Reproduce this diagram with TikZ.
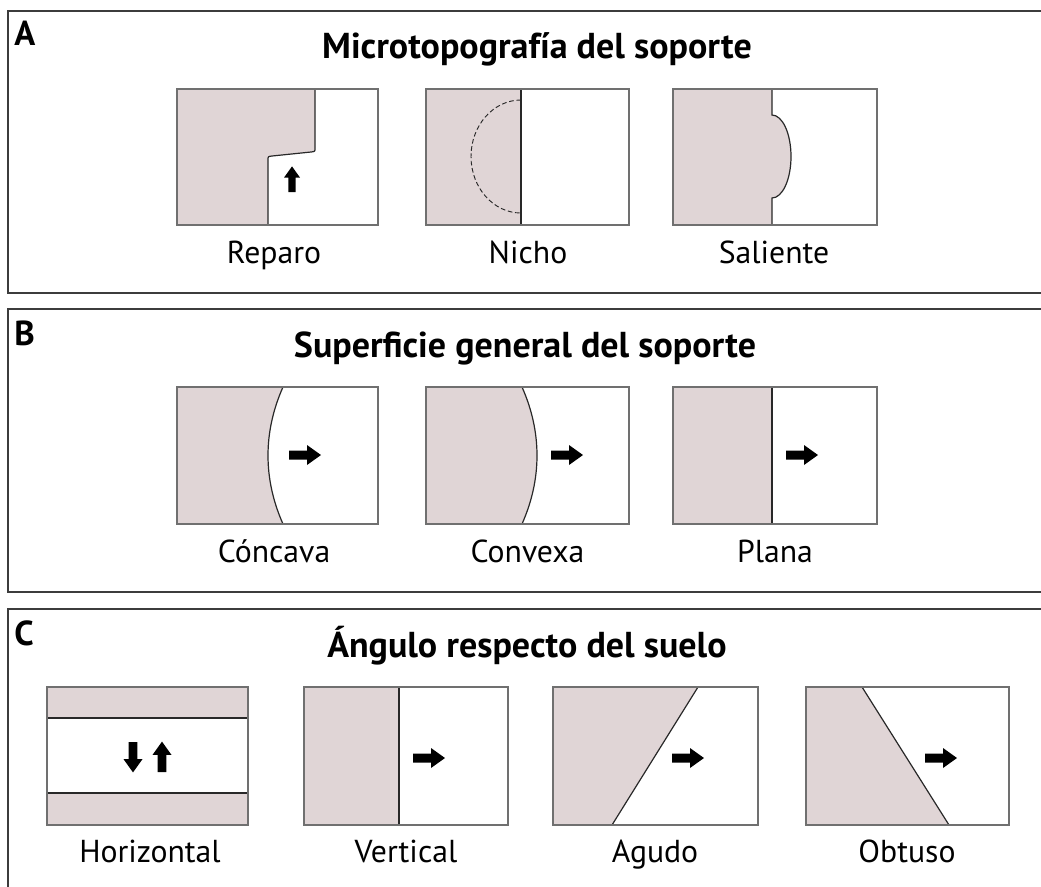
\documentclass[tikz,border=0pt]{standalone}
\usepackage{fontspec}
\setmainfont{PT Sans}
\definecolor{pinkfill}{RGB}{224,213,214}
\definecolor{framegray}{RGB}{60,60,60}
\definecolor{boxgray}{RGB}{112,112,112}
\definecolor{edgegray}{RGB}{40,40,40}
\tikzset{
  frame/.style={draw=framegray, line width=1.5pt},
  box/.style={draw=boxgray, line width=1pt},
  edge/.style={draw=edgegray, line width=0.9pt},
  titletext/.style={font=\bfseries\fontsize{27}{32}\selectfont, anchor=base, inner sep=0},
  labtext/.style={font=\fontsize{23.8}{28}\selectfont, anchor=base, inner sep=0},
  lettertext/.style={font=\bfseries\fontsize{26}{30}\selectfont, anchor=base west, inner sep=0},
  blk/.pic={\fill[black] (0,-4.5) -- (18,-4.5) -- (18,-10) -- (32,0) -- (18,10) -- (18,4.5) -- (0,4.5) -- cycle;}
}
\begin{document}
\begin{tikzpicture}[x=0.75pt,y=-0.75pt]
\useasboundingbox (0,0) rectangle (1041,886);
\begin{scope}
\clip (0,0) rectangle (1041,886);
% frames
\draw[frame] (1050,11) -- (8,11) -- (8,293) -- (1050,293);
\draw[frame] (1050,309) -- (8,309) -- (8,592) -- (1050,592);
\draw[frame] (1050,609) -- (8,609) -- (8,900);

% ---------- A ----------
\node[lettertext] (LA) at (14,45) {A};
\node[titletext] (TA) at (537,58) {Microtopografía del soporte};
% Reparo
\fill[pinkfill] (177,89) -- (315,89) -- (315,148) .. controls (315,151.5) .. (311,152) -- (272,156) .. controls (268,156.5) .. (268,160) -- (268,225) -- (177,225) -- cycle;
\draw[edge] (315,89) -- (315,148) .. controls (315,151.5) .. (311,152) -- (272,156) .. controls (268,156.5) .. (268,160) -- (268,225);
\draw[box] (177,89) rectangle (378,225);
\pic[rotate=90, scale=0.8] at (292,192) {blk};
\node[labtext] (lReparo) at (274,263) {Reparo};
% Nicho
\fill[pinkfill] (426,89) rectangle (521,225);
\draw[edge, dashed, dash pattern=on 3.5pt off 2pt, line width=0.7pt] (521,100) arc[start angle=270, end angle=90, x radius=50, y radius=56.5];
\draw[edge] (521,89) -- (521,225);
\draw[box] (426,89) rectangle (629,225);
\node[labtext] (lNicho) at (528,263) {Nicho};
% Saliente
\fill[pinkfill] (673,89) -- (772,89) -- (772,115) arc[start angle=-90, end angle=90, x radius=19, y radius=41.5] -- (772,225) -- (673,225) -- cycle;
\draw[edge] (772,89) -- (772,115) arc[start angle=-90, end angle=90, x radius=19, y radius=41.5] -- (772,225);
\draw[box] (673,89) rectangle (877,225);
\node[labtext] (lSaliente) at (774,263) {Saliente};

% ---------- B ----------
\node[lettertext] (LB) at (14,345) {B};
\node[titletext] (TB) at (525,357) {Superficie general del soporte};
% Concava
\fill[pinkfill] (177,387) -- (283,387) .. controls (263,432) and (263,479) .. (283,524) -- (177,524) -- cycle;
\draw[edge] (283,387) .. controls (263,432) and (263,479) .. (283,524);
\draw[box] (177,387) rectangle (378,524);
\pic at (289,455) {blk};
\node[labtext] (lConcava) at (274,562) {Cóncava};
% Convexa
\fill[pinkfill] (426,387) -- (522,387) .. controls (542,432) and (542,479) .. (522,524) -- (426,524) -- cycle;
\draw[edge] (522,387) .. controls (542,432) and (542,479) .. (522,524);
\draw[box] (426,387) rectangle (629,524);
\pic at (551,455) {blk};
\node[labtext] (lConvexa) at (527.5,562) {Convexa};
% Plana
\fill[pinkfill] (673,387) rectangle (772,524);
\draw[edge] (772,387) -- (772,524);
\draw[box] (673,387) rectangle (877,524);
\pic at (786,455) {blk};
\node[labtext] (lPlana) at (775,562) {Plana};

% ---------- C ----------
\node[lettertext] (LC) at (14,645) {C};
\node[titletext] (TC) at (527,657) {Ángulo respecto del suelo};
% Horizontal
\fill[pinkfill] (47,687) rectangle (248,718);
\fill[pinkfill] (47,793) rectangle (248,825);
\draw[edge] (47,718) -- (248,718);
\draw[edge] (47,793) -- (248,793);
\draw[box] (47,687) rectangle (248,825);
\pic[rotate=-90, scale=0.95] at (133,742) {blk};
\pic[rotate=90, scale=0.95] at (162,772) {blk};
\node[labtext] (lHorizontal) at (150,862) {Horizontal};
% Vertical
\fill[pinkfill] (304,687) rectangle (399,825);
\draw[edge] (399,687) -- (399,825);
\draw[box] (304,687) rectangle (508,825);
\pic at (413,758) {blk};
\node[labtext] (lVertical) at (406,862) {Vertical};
% Agudo
\fill[pinkfill] (553,687) -- (698,687) -- (612,825) -- (553,825) -- cycle;
\draw[edge] (698,687) -- (612,825);
\draw[box] (553,687) rectangle (758,825);
\pic at (672,758) {blk};
\node[labtext] (lAgudo) at (655,862) {Agudo};
% Obtuso
\fill[pinkfill] (806,687) -- (862,687) -- (949,825) -- (806,825) -- cycle;
\draw[edge] (862,687) -- (949,825);
\draw[box] (806,687) rectangle (1009,825);
\pic at (925,758) {blk};
\node[labtext] (lObtuso) at (907,862) {Obtuso};
\end{scope}
\end{tikzpicture}
\end{document}
